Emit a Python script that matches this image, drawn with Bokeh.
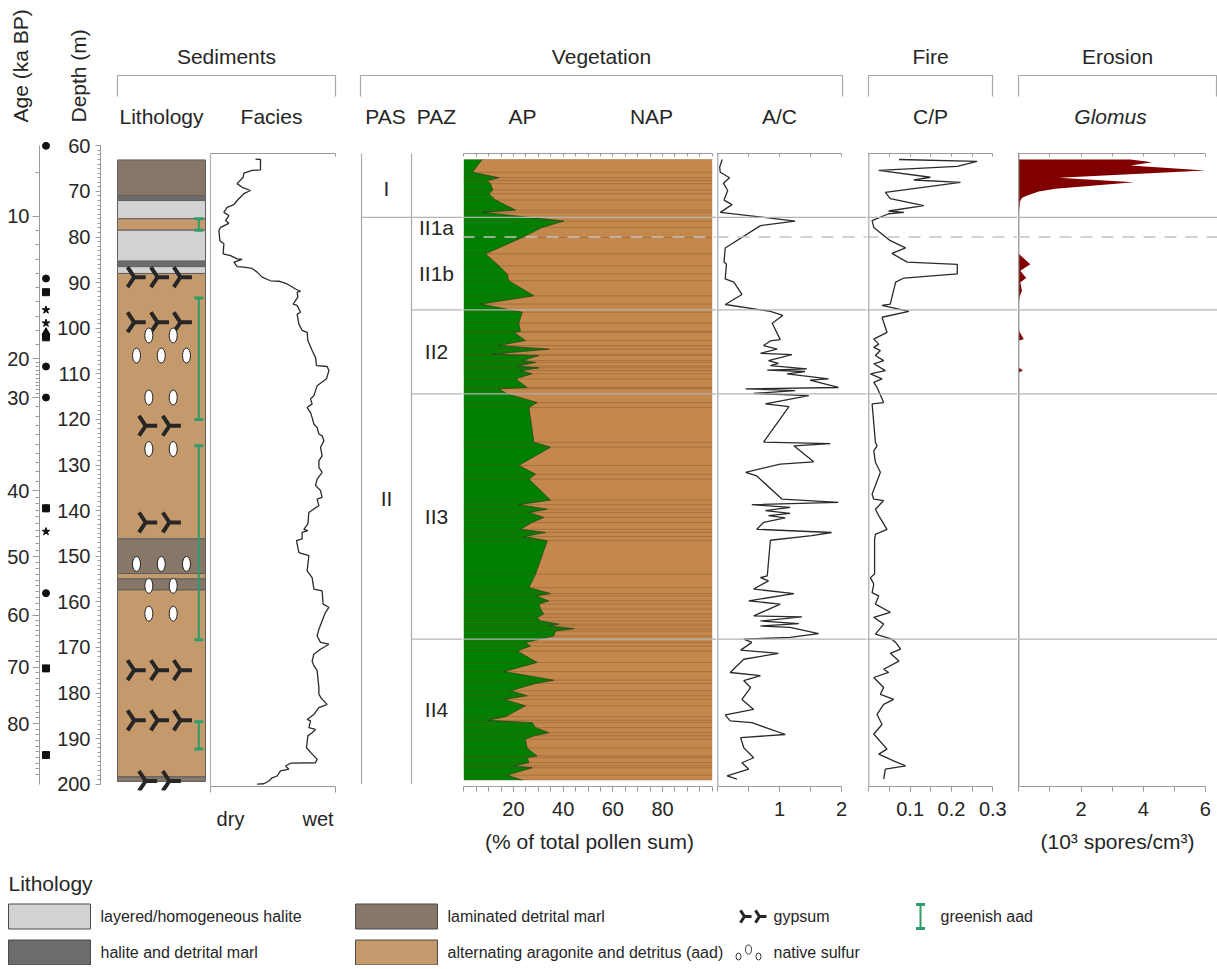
import numpy as np
from bokeh.plotting import figure
from bokeh.layouts import column, row
from bokeh.models import Range1d, LinearAxis, FixedTicker, SingleIntervalTicker, Span
from bokeh.core.properties import value
from bokeh.embed import file_html
from bokeh.resources import INLINE

FONT = "Liberation Sans"
TXT = "#262626"
AXC = "#9b9b9b"
HEAD_SIZE = "21px"
TICK_SIZE = "20px"

# ------------------------------------------------------------------ data
# Facies (0 = dry ... 100 = wet)
FACIES_DEPTH = [62.9, 63.0, 65.3, 65.4, 66.0, 66.9, 68.3, 69.1, 69.8, 70.5, 72.0, 72.9, 73.5, 74.6, 75.3,
                76.4, 77.0, 77.9, 78.6, 80.8, 81.5, 83.7, 84.1, 84.8, 84.9, 85.5, 86.5, 86.6, 86.9, 87.7,
                88.8, 89.6, 89.7, 90.3, 91.4, 91.9, 92.1, 93.2, 94.7, 95.0, 96.5, 96.9, 99.1, 100.5, 100.9,
                102.7, 104.9, 106.4, 108.2, 108.4, 109.3, 111.1, 112.6, 113.7, 114.8, 115.5, 116.6, 117.4,
                118.5, 119.6, 121.0, 121.8, 123.2, 123.6, 124.7, 126.1, 128.0, 129.1, 130.5, 131.6, 133.1,
                134.5, 135.6, 137.1, 137.5, 138.9, 140.4, 142.9, 144.1, 144.4, 144.8, 146.2, 146.6, 149.2,
                149.9, 153.2, 154.7, 157.2, 157.6, 160.5, 161.2, 162.3, 166.0, 167.5, 168.9, 169.3, 170.4,
                171.5, 173.0, 174.0, 175.1, 178.8, 180.3, 181.4, 182.5, 183.2, 184.7, 185.8, 186.1, 187.6,
                188.0, 188.7, 189.4, 192.0, 193.4, 194.5, 195.3, 195.4, 196.0, 196.7, 197.1, 198.2, 198.6,
                199.3, 199.9, 200.0]
FACIES_VALUE = [36.0, 40.0, 40.0, 33.3, 26.7, 26.1, 21.3, 25.3, 32.0, 26.7, 21.3, 18.7, 13.3, 10.7, 14.7,
                12.0, 14.7, 8.0, 6.7, 7.5, 10.7, 10.1, 16.0, 21.3, 25.3, 18.7, 21.3, 26.7, 33.3, 37.3,
                41.3, 48.0, 54.7, 61.3, 68.0, 72.0, 69.3, 69.9, 66.1, 69.3, 72.0, 69.3, 70.7, 73.3, 77.3,
                77.9, 81.3, 84.0, 84.8, 93.3, 94.7, 92.8, 85.3, 84.0, 82.7, 80.0, 81.3, 77.3,
                80.0, 81.3, 82.7, 85.3, 86.7, 89.3, 90.7, 88.0, 89.3, 86.7, 86.7, 89.3, 85.3,
                84.0, 88.0, 89.3, 85.3, 86.7, 78.7, 77.9, 74.7, 77.9, 73.3, 73.3, 68.8, 70.7,
                78.7, 77.3, 81.3, 82.7, 89.3, 90.1, 94.7, 92.0, 86.7, 85.3, 88.0, 94.7, 88.0,
                82.7, 81.3, 82.7, 85.3, 86.7, 86.7, 89.3, 93.3, 86.7, 82.7, 77.3, 80.0, 78.7,
                84.0, 81.3, 77.9, 76.8, 81.3, 85.3, 84.0, 64.0, 60.0, 62.7, 56.0, 53.3, 49.3,
                46.7, 42.7, 37.3]

# Arboreal pollen (% of total pollen sum); NAP = 100 - AP
AP_DEPTH = [63.0, 65.8, 67.0, 67.6, 68.3, 69.7, 70.5, 71.9, 74.1, 74.6, 76.5, 77.9, 80.1, 83.7, 86.3,
            88.1, 89.6, 92.9, 94.7, 96.5, 98.9, 100.7, 100.9, 102.7, 103.8, 104.6, 105.7, 106.0, 107.1,
            107.5, 108.3, 108.7, 109.3, 110.0, 111.1, 113.0, 113.3, 114.4, 116.3, 117.4, 125.0, 126.1,
            130.1, 132.0, 133.1, 137.7, 138.7, 139.7, 140.4, 141.5, 142.6, 144.1, 144.8, 145.7, 146.6,
            153.9, 156.9, 158.2, 158.7, 159.8, 160.5, 161.6, 162.7, 163.4, 164.2, 164.9, 165.3, 165.9,
            166.4, 167.5, 168.9, 169.7, 170.8, 173.3, 175.3, 177.2, 177.9, 179.5, 180.6, 181.4, 182.8,
            185.2, 186.0, 186.5, 187.6, 188.7, 189.4, 190.1, 192.1, 193.8, 194.2, 195.3, 196.0, 196.4,
            198.0, 199.1]
AP_PCT = [7.4, 3.4, 14.1, 9.4, 10.7, 11.7, 10.1, 12.8, 20.8, 7.4, 40.3, 31.5, 23.5, 8.7, 14.1,
          17.4, 18.1, 28.2, 6.7, 23.5, 22.1, 22.8, 20.1, 24.8, 14.1, 34.2, 11.4, 30.2, 23.5,
          28.9, 21.5, 30.2, 22.8, 27.5, 20.8, 25.5, 14.1, 17.4, 29.5, 26.2, 28.2, 34.9,
          22.1, 28.9, 26.2, 34.9, 22.1, 33.6, 26.2, 32.2, 27.5, 22.8, 32.9, 24.2, 33.6,
          28.9, 26.2, 34.9, 28.9, 34.2, 30.2, 30.9, 32.2, 29.5, 30.9, 38.3, 34.2, 44.3,
          36.9, 36.2, 24.8, 26.8, 21.5, 29.5, 16.1, 36.2, 28.9, 18.8, 25.5, 16.1, 24.8,
          16.8, 9.4, 27.5, 28.9, 34.2, 28.2, 24.8, 25.5, 29.5, 25.5, 26.2, 20.1, 27.5,
          17.4, 23.5]

# Arboreal / Chenopodiaceae ratio
AC_DEPTH = [63.0, 64.7, 65.8, 67.0, 68.2, 69.8, 71.9, 72.9, 74.6, 76.5, 77.5, 82.4, 85.5, 85.9, 89.2,
            89.9, 92.6, 94.8, 96.3, 97.2, 98.9, 102.5, 102.8, 103.8, 104.6, 105.5, 105.8, 107.1, 107.7,
            108.2, 108.9, 109.2, 109.5, 110.0, 111.1, 111.4, 113.0, 113.3, 113.7, 114.3, 114.8, 116.6,
            117.2, 125.0, 125.3, 125.8, 129.3, 129.8, 131.6, 132.4, 137.5, 138.2, 138.7, 139.3, 140.0,
            140.6, 141.1, 141.6, 142.6, 144.1, 144.8, 145.5, 146.5, 154.3, 154.7, 155.4, 157.2, 158.2,
            159.8, 160.5, 163.1, 163.3, 164.2, 164.8, 165.3, 165.6, 167.0, 167.8, 168.2, 168.9, 170.6,
            171.3, 172.6, 175.5, 176.2, 177.3, 178.8, 181.4, 183.6, 184.8, 186.1, 186.5, 189.1, 189.8,
            192.0, 194.2, 195.3, 196.7, 198.2, 198.9]
AC_VALUE = [0.07, 0.03, 0.04, 0.19, 0.09, 0.16, 0.10, 0.23, 0.04, 1.25, 0.69, 0.12, 0.10, 0.14, 0.12,
            0.26, 0.39, 0.12, 0.85, 1.05, 0.88, 1.01, 0.85, 0.74, 0.96, 0.69, 1.20, 0.82, 0.98,
            0.85, 1.44, 0.80, 1.41, 1.12, 1.79, 1.49, 1.95, 0.45, 1.25, 0.58, 1.47, 0.77,
            1.15, 0.74, 1.82, 1.23, 1.55, 1.01, 0.45, 0.63, 1.04, 1.95, 0.55, 1.17, 0.77,
            1.17, 0.82, 1.09, 0.74, 0.63, 1.84, 1.52, 0.85, 0.80, 0.69, 0.82, 0.58, 1.23,
            0.50, 1.01, 0.58, 1.36, 0.69, 1.31, 0.69, 1.17, 1.63, 1.17, 0.42, 0.55, 0.37,
            0.98, 0.42, 0.20, 0.69, 0.42, 0.53, 0.39, 0.58, 0.12, 0.20, 0.55, 1.09, 0.37,
            0.42, 0.58, 0.39, 0.50, 0.15, 0.31]

# Charcoal / pollen ratio
CP_DEPTH = [63.0, 63.4, 64.5, 65.4, 66.9, 67.5, 68.0, 70.2, 71.6, 73.1, 74.3, 74.6, 74.9, 76.4, 77.9,
            80.8, 82.4, 83.6, 85.5, 86.0, 88.1, 89.0, 89.9, 93.2, 94.7, 95.0, 96.3, 97.6, 100.9,
            102.4, 103.5, 104.2, 104.9, 106.0, 107.1, 107.8, 109.3, 110.0, 111.1, 111.9, 113.0, 116.3,
            116.6, 125.0, 125.8, 126.9, 129.4, 131.6, 136.4, 137.5, 137.8, 139.7, 141.1, 144.1, 145.2,
            146.3, 153.9, 154.7, 156.1, 158.0, 158.7, 160.5, 162.3, 163.4, 164.9, 167.1, 168.2, 168.9,
            170.4, 171.3, 173.0, 174.8, 175.5, 176.6, 178.8, 180.3, 181.4, 182.5, 184.7, 186.9, 189.0,
            192.3, 193.4, 194.9, 196.0, 196.7, 198.9]
CP_VALUE = [0.073, 0.262, 0.214, 0.024, 0.149, 0.109, 0.222, 0.040, 0.052, 0.133, 0.048, 0.085, 0.048,
            0.008, 0.012, 0.052, 0.089, 0.056, 0.093, 0.214, 0.214, 0.085, 0.065, 0.056, 0.052, 0.032,
            0.097, 0.032, 0.044, 0.012, 0.024, 0.012, 0.028, 0.016, 0.036, 0.012, 0.040, 0.004, 0.032,
            0.012, 0.020, 0.036, 0.008, 0.016, 0.020, 0.012, 0.016, 0.028, 0.008, 0.012, 0.036, 0.016,
            0.024, 0.044, 0.016, 0.014, 0.014, 0.004, 0.012, 0.008, 0.024, 0.016, 0.052, 0.012, 0.036,
            0.016, 0.056, 0.065, 0.077, 0.052, 0.073, 0.036, 0.048, 0.012, 0.036, 0.028, 0.060, 0.036,
            0.020, 0.032, 0.012, 0.044, 0.024, 0.060, 0.089, 0.040, 0.036]

# Glomus (10^3 spores / cm^3)
GLOMUS_DEPTH = [63.0, 63.6, 64.3, 65.4, 67.0, 68.0, 69.4, 70.0, 70.9, 71.4, 72.0, 73.5, 74.6,
                83.7, 86.0, 87.4, 89.0, 89.9, 91.8, 93.2, 94.7,
                100.5, 102.4, 102.7, 108.6, 109.3, 109.7]
GLOMUS_VALUE = [3.59, 4.29, 3.59, 6.00, 1.29, 3.70, 1.18, 0.64, 0.27, 0.11, 0.05, 0.02, 0.0,
                0.0, 0.37, 0.05, 0.24, 0.05, 0.10, 0.02, 0.0,
                0.0, 0.16, 0.0, 0.0, 0.13, 0.0]

# Lithology
LITH_TOP = [63.1, 70.9, 72.0, 76.0, 78.5, 85.3, 86.5, 88.0, 146.2, 153.8, 155.0, 157.4, 198.4]
LITH_BOTTOM = [70.9, 72.0, 76.0, 78.5, 85.3, 86.5, 88.0, 146.2, 153.8, 155.0, 157.4, 198.4, 199.4]
LITH_TYPE = ["marl", "halite_marl", "halite", "aad", "halite", "halite_marl", "halite", "aad",
             "marl", "aad", "marl", "aad", "marl"]
GYPSUM_DEPTH = [88.8, 98.7, 121.4, 142.6, 175.0, 186.0, 199.3]
GYPSUM_COUNT = [3, 3, 2, 2, 3, 3, 2]
SULFUR_DEPTH = [101.6, 106.0, 115.2, 126.5, 151.7, 156.5, 162.6]
SULFUR_COUNT = [2, 3, 2, 2, 3, 2, 2]
GREEN_TOP = [76.0, 93.4, 125.8, 186.3]
GREEN_BOTTOM = [78.5, 120.0, 168.3, 192.3]

# Dating points (depth, m)
DATE_CIRCLE = [60.0, 89.1, 108.4, 115.2, 139.5, 158.1]
DATE_SQUARE = [92.1, 102.0, 139.5, 174.6, 193.6]
DATE_STAR = [96.0, 98.9, 144.6]
DATE_TRIANGLE = [100.9]

# Age axis (ka BP) at depth (m)
AGE_LABELS = [10, 20, 30, 40, 50, 60, 70, 80]
AGE_LABEL_DEPTHS = [75.5, 106.7, 115.2, 135.6, 150.1, 162.9, 174.3, 186.7]

# Pollen zones
PAS_NAMES = ["I", "II"]
PAS_BOUNDS = [63.0, 75.7, 199.1]
PAZ_NAMES = ["II1a", "II1b", "II2", "II3", "II4"]
PAZ_BOUNDS = [75.7, 80.0, 96.0, 114.4, 168.2, 199.1]
ZONE_SOLID = [75.7, 96.0, 114.4, 168.2]
ZONE_DASHED = [80.0]

LITH_COLORS = {"halite": "#d2d2d2", "halite_marl": "#6c6c6c", "marl": "#877769", "aad": "#c49a6c"}
GREEN_AAD = "#2e9d6b"

# ------------------------------------------------------------------ layout
PXM = 4.56          # px per metre
Y60 = 145.3         # page y of 60 m
HDR_H = 128
ROW_H = 734
LEG_H = 103
PANEL_TOP = 153
PANEL_BOT = 786
DEPTH_BOT = 790
ROW_BOT = HDR_H + ROW_H


def depth_at(y):
    return 60 + (y - Y60) / PXM


Y_DEPTH = Range1d(depth_at(DEPTH_BOT), depth_at(HDR_H))
Y_PANEL = Range1d(depth_at(PANEL_BOT), depth_at(PANEL_TOP))


def xr(left_px, width_px, zero_px, px_per_unit):
    s = (left_px - zero_px) / px_per_unit
    return Range1d(s, s + width_px / px_per_unit)


def make_fig(width, height, x_range, y_range, left=0, right=0, top=0, bottom=0):
    p = figure(width=width, height=height, x_range=x_range, y_range=y_range,
               output_backend="svg", toolbar_location=None,
               x_axis_location=None, y_axis_location=None,
               min_border_left=left, min_border_right=right,
               min_border_top=top, min_border_bottom=bottom)
    p.grid.visible = False
    p.outline_line_color = None
    p.background_fill_color = None
    p.border_fill_color = None
    if "frame_align" in p.properties():
        p.frame_align = False
    return p


def depth_fig(width, x_range, left):
    return make_fig(width, ROW_H, x_range, Y_DEPTH, left=left, bottom=ROW_BOT - DEPTH_BOT)


def panel_fig(width, x_range):
    return make_fig(width, ROW_H, x_range, Y_PANEL, top=PANEL_TOP - HDR_H, bottom=ROW_BOT - PANEL_BOT)


def style(ax, size=TICK_SIZE, tick_in=0, tick_out=5, standoff=7):
    ax.axis_line_color = AXC
    ax.major_tick_line_color = AXC
    ax.minor_tick_line_color = AXC
    ax.major_tick_in = tick_in
    ax.major_tick_out = tick_out
    ax.minor_tick_in = tick_in
    ax.minor_tick_out = tick_out
    ax.major_label_text_font = FONT
    ax.major_label_text_color = TXT
    ax.major_label_text_font_size = size
    ax.major_label_standoff = standoff
    return ax


def panel_axes(p, bounds, top_ticks, bot_ticks, bot_minor, label=None, overrides=None):
    top = LinearAxis(bounds=bounds, ticker=FixedTicker(ticks=[], minor_ticks=top_ticks))
    style(top, tick_in=3, tick_out=0, standoff=0)
    p.add_layout(top, "above")
    bot = LinearAxis(bounds=bounds, ticker=FixedTicker(ticks=bot_ticks, minor_ticks=bot_minor))
    style(bot, tick_out=5, standoff=10)
    if overrides:
        bot.major_label_overrides = overrides
    if label:
        bot.axis_label = label
        bot.axis_label_text_font = FONT
        bot.axis_label_text_font_style = "normal"
        bot.axis_label_text_font_size = HEAD_SIZE
        bot.axis_label_text_color = TXT
        bot.axis_label_standoff = 11
    p.add_layout(bot, "below")
    return bot


def zone_lines(p):
    for d in ZONE_SOLID:
        p.add_layout(Span(location=d, dimension="width", line_color="#b4b4b4", line_width=1.3))
    for d in ZONE_DASHED:
        p.add_layout(Span(location=d, dimension="width", line_color="#c4c4c4", line_width=1.3,
                          line_dash="12 9"))


# ---------------- age column
f_age = depth_fig(52, Range1d(0, 1), left=39)
age_minor_ages = [5] + [a for a in range(11, 90) if a % 10]
age_ctrl_a = [5] + AGE_LABELS + [90]
age_ctrl_d = [65.8] + AGE_LABEL_DEPTHS + [199.1]
age_minor = [float(d) for d in np.interp(age_minor_ages, age_ctrl_a, age_ctrl_d) if 60 <= d <= 200]
age_ax = LinearAxis(bounds=(60, 200), ticker=FixedTicker(ticks=AGE_LABEL_DEPTHS, minor_ticks=age_minor))
style(age_ax, tick_out=7, standoff=3)
age_ax.minor_tick_out = 4
age_ax.major_label_overrides = {d: str(a) for d, a in zip(AGE_LABEL_DEPTHS, AGE_LABELS)}
f_age.add_layout(age_ax, "left")
f_age.scatter([0.5] * len(DATE_CIRCLE), DATE_CIRCLE, marker="circle", size=7, color="#111111")
f_age.scatter([0.5] * len(DATE_SQUARE), DATE_SQUARE, marker="square", size=7, color="#111111")
f_age.scatter([0.5] * len(DATE_STAR), DATE_STAR, marker="star", size=8, color="#111111")
f_age.scatter([0.5] * len(DATE_TRIANGLE), DATE_TRIANGLE, marker="triangle", size=8, color="#111111")

# ---------------- depth + lithology
f_lith = depth_fig(156, xr(100, 108, 117, 88), left=48)
dep_ax = LinearAxis(bounds=(60, 200), ticker=SingleIntervalTicker(interval=10, num_minor_ticks=10))
style(dep_ax, tick_out=5, standoff=5)
dep_ax.minor_tick_out = 3
f_lith.add_layout(dep_ax, "left")
f_lith.quad(left=0, right=1, top=LITH_TOP, bottom=LITH_BOTTOM,
            fill_color=[LITH_COLORS[t] for t in LITH_TYPE], line_color="#5f5f5f", line_width=1)
slots = {3: [0.19, 0.455, 0.715], 2: [0.32, 0.59]}
gx, gy = [], []
for d, n in zip(GYPSUM_DEPTH, GYPSUM_COUNT):
    for s in slots[n]:
        gx.append(s)
        gy.append(d)
f_lith.scatter(gx, gy, marker="y", size=23, angle=np.pi / 2, line_color="#262626", line_width=4)
sslots = {3: [0.216, 0.497, 0.784], 2: [0.356, 0.633]}
sx, sy = [], []
for d, n in zip(SULFUR_DEPTH, SULFUR_COUNT):
    for s in sslots[n]:
        sx.append(s)
        sy.append(d)
f_lith.ellipse(x=sx, y=sy, width=8, height=15, width_units="screen", height_units="screen",
               fill_color="white", line_color="#222222", line_width=1)
f_lith.segment(x0=0.924, x1=0.924, y0=GREEN_TOP, y1=GREEN_BOTTOM, line_color=GREEN_AAD, line_width=2)
f_lith.scatter([0.924] * 8, GREEN_TOP + GREEN_BOTTOM, marker="dash", size=9, line_color=GREEN_AAD,
               line_width=3)

# ---------------- facies
f_fac = panel_fig(152, xr(208, 152, 210, 1.25))
panel_axes(f_fac, (0, 100), [100], [16, 86], [0, 100], overrides={16: "dry", 86: "wet"})
f_fac.below[0].major_tick_out = 0
f_fac.below[0].minor_tick_out = 6
f_fac.below[0].major_label_standoff = 15
f_fac.add_layout(Span(location=0, dimension="height", line_color="#b0b0b0", line_width=1.2))
f_fac.line(FACIES_VALUE, FACIES_DEPTH, line_color="#2a2a2a", line_width=1.3)

# ---------------- PAS / PAZ
f_zone = panel_fig(102, xr(360, 102, 361, 50))
for xv in (0, 1):
    f_zone.segment(x0=xv, x1=xv, y0=Y_PANEL.end, y1=200.0, line_color="#a8a8a8", line_width=1.2)
for d in ZONE_SOLID:
    f_zone.segment(x0=0 if d == PAS_BOUNDS[1] else 1, x1=f_zone.x_range.end, y0=d, y1=d,
                   line_color="#b4b4b4", line_width=1.3)
pas_y = [(a + b) / 2 for a, b in zip(PAS_BOUNDS[:-1], PAS_BOUNDS[1:])]
paz_y = [(a + b) / 2 for a, b in zip(PAZ_BOUNDS[:-1], PAZ_BOUNDS[1:])]
f_zone.text([0.5] * len(PAS_NAMES), pas_y, text=PAS_NAMES, text_font=value(FONT),
            text_font_size=HEAD_SIZE, text_color=TXT, text_align="center", text_baseline="middle")
f_zone.text([1.5] * len(PAZ_NAMES), paz_y, text=PAZ_NAMES, text_font=value(FONT),
            text_font_size=HEAD_SIZE, text_color=TXT, text_align="center", text_baseline="middle")

# ---------------- AP / NAP
f_ap = panel_fig(254, xr(462, 254, 463.3, 2.484))
panel_axes(f_ap, (0, 100), list(range(0, 101, 5)), [20, 40, 60, 80], list(range(0, 101, 5)),
           label="(% of total pollen sum)")
n_ap = len(AP_DEPTH)
f_ap.harea(x1=AP_PCT, x2=[100] * n_ap, y=AP_DEPTH, fill_color="#c4884c")
f_ap.harea(x1=[0] * n_ap, x2=AP_PCT, y=AP_DEPTH, fill_color="#008000")
f_ap.segment(x0=0, x1=100, y0=AP_DEPTH, y1=AP_DEPTH, line_color="#6e4a22", line_alpha=0.35,
             line_width=1)
f_ap.line(AP_PCT, AP_DEPTH, line_color="#1f3d12", line_width=0.8)
zone_lines(f_ap)

# ---------------- A/C
f_ac = panel_fig(150, xr(716, 150, 717.3, 61.85))
panel_axes(f_ac, (0, 2), [0, 0.5, 1, 1.5, 2], [1, 2], [0, 0.5, 1, 1.5, 2])
f_ac.add_layout(Span(location=0, dimension="height", line_color="#a8a8a8", line_width=1.2))
f_ac.line(AC_VALUE, AC_DEPTH, line_color="#2a2a2a", line_width=1.3)
zone_lines(f_ac)

# ---------------- C/P
f_cp = panel_fig(151, xr(866, 151, 868.3, 413.3))
panel_axes(f_cp, (0, 0.3), [0, 0.05, 0.1, 0.15, 0.2, 0.25, 0.3], [0.1, 0.2, 0.3],
           [0, 0.05, 0.1, 0.15, 0.2, 0.25, 0.3])
f_cp.add_layout(Span(location=0, dimension="height", line_color="#a8a8a8", line_width=1.2))
f_cp.line(CP_VALUE, CP_DEPTH, line_color="#2a2a2a", line_width=1.3)
zone_lines(f_cp)

# ---------------- Glomus
f_gl = panel_fig(200, xr(1017, 200, 1018.3, 31.1))
panel_axes(f_gl, (0, 6), [0, 1, 2, 3, 4, 5, 6], [2, 4, 6], [0, 1, 2, 3, 4, 5, 6],
           label="(10³ spores/cm³)")
f_gl.harea(x1=[0] * len(GLOMUS_DEPTH), x2=GLOMUS_VALUE, y=GLOMUS_DEPTH, fill_color="#800000")
f_gl.add_layout(Span(location=0, dimension="height", line_color="#8a8a8a", line_width=1.2))
zone_lines(f_gl)

# ---------------- header
hdr = make_fig(1217, HDR_H, Range1d(0, 1217), Range1d(HDR_H, 0))
GROUPS = ["Sediments", "Vegetation", "Fire", "Erosion"]
GROUP_X0 = [117, 360, 868, 1018]
GROUP_X1 = [335, 842, 992, 1216]
hdr.text([(a + b) / 2 for a, b in zip(GROUP_X0, GROUP_X1)], [56] * 4, text=GROUPS,
         text_font=value(FONT), text_font_size=HEAD_SIZE, text_color=TXT,
         text_align="center", text_baseline="middle")
hdr.multi_line([[a, a, b, b] for a, b in zip(GROUP_X0, GROUP_X1)], [[96, 75, 75, 96]] * 4,
               line_color="#a8a8a8", line_width=1.2)
SUB = ["Lithology", "Facies", "PAS", "PAZ", "AP", "NAP", "A/C", "C/P"]
SUB_X = [161, 271, 385, 436, 522, 651, 779, 930]
hdr.text(SUB_X, [116] * len(SUB), text=SUB, text_font=value(FONT), text_font_size=HEAD_SIZE,
         text_color=TXT, text_align="center", text_baseline="middle")
hdr.text([1110], [116], text=["Glomus"], text_font=value(FONT), text_font_size=HEAD_SIZE,
         text_font_style="italic", text_color=TXT, text_align="center", text_baseline="middle")
hdr.text([20, 78], [122, 122], text=["Age (ka BP)", "Depth (m)"], angle=np.pi / 2,
         text_font=value(FONT), text_font_size=HEAD_SIZE, text_color=TXT,
         text_align="left", text_baseline="middle")

# ---------------- legend
leg = make_fig(1217, LEG_H, Range1d(0, 1217), Range1d(ROW_BOT + LEG_H, ROW_BOT))
leg.text([8], [883], text=["Lithology"], text_font=value(FONT), text_font_size=HEAD_SIZE,
         text_color=TXT, text_align="left", text_baseline="middle")
LEG_NAMES = ["layered/homogeneous halite", "halite and detrital marl", "laminated detrital marl",
             "alternating aragonite and detritus (aad)"]
LEG_TYPES = ["halite", "halite_marl", "marl", "aad"]
LEG_X = [8, 8, 355, 355]
LEG_Y = [916, 952, 916, 952]
leg.quad(left=LEG_X, right=[x + 82 for x in LEG_X], top=[y - 12.5 for y in LEG_Y],
         bottom=[y + 12.5 for y in LEG_Y], fill_color=[LITH_COLORS[t] for t in LEG_TYPES],
         line_color="#4a4a4a", line_width=1)
leg.text([x + 92 for x in LEG_X], LEG_Y, text=LEG_NAMES, text_font=value(FONT),
         text_font_size="16px", text_color=TXT, text_align="left", text_baseline="middle")
leg.scatter([744, 759], [916, 916], marker="y", size=14, angle=np.pi / 2, line_color="#262626",
            line_width=3)
leg.ellipse(x=[738, 748, 758], y=[956, 949, 956], width=[5, 6, 5], height=[7, 9, 7],
            fill_color="white", line_color="#333333", line_width=1)
leg.text([773, 773], [916, 952], text=["gypsum", "native sulfur"], text_font=value(FONT),
         text_font_size="16px", text_color=TXT, text_align="left", text_baseline="middle")
leg.segment(x0=920, x1=920, y0=904, y1=928, line_color=GREEN_AAD, line_width=2)
leg.scatter([920, 920], [904, 928], marker="dash", size=9, line_color=GREEN_AAD, line_width=3)
leg.text([940], [916], text=["greenish aad"], text_font=value(FONT), text_font_size="16px",
         text_color=TXT, text_align="left", text_baseline="middle")

layout = column(hdr, row(f_age, f_lith, f_fac, f_zone, f_ap, f_ac, f_cp, f_gl), leg)
open("out.html", "w").write(file_html(layout, INLINE))
